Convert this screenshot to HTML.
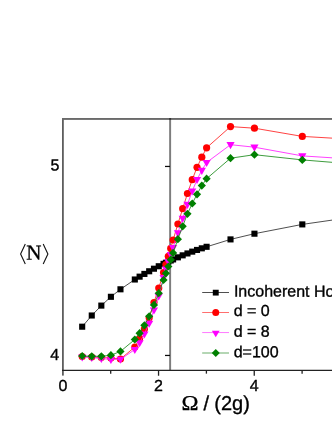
<!DOCTYPE html>
<html><head><meta charset="utf-8"><title>chart</title>
<style>
html,body{margin:0;padding:0;background:#fff;}
body{width:332px;height:430px;position:relative;overflow:hidden;font-family:"Liberation Sans",sans-serif;color:#000;}
</style></head><body>
<svg width="332" height="430" viewBox="0 0 332 430" style="position:absolute;left:0;top:0;text-rendering:geometricPrecision;will-change:transform">
<rect x="62.0" y="118.0" width="1.8" height="257.6" fill="#5e5e5e"/>
<rect x="62.0" y="118.0" width="280" height="1.9" fill="#6a6a6a"/>
<rect x="169.15" y="118.0" width="1.95" height="252.5" fill="#000" fill-opacity="0.51"/>
<path d="M62.0,370.45 L340,370.45" fill="none" stroke="#222" stroke-width="1.3"/>
<path d="M158.55,370.45 L158.55,375.75" stroke="#222" stroke-width="1.3"/>
<path d="M254.25,370.45 L254.25,375.75" stroke="#222" stroke-width="1.3"/>
<path d="M110.70,370.45 L110.70,373.65" stroke="#222" stroke-width="1.3"/>
<path d="M206.40,370.45 L206.40,373.65" stroke="#222" stroke-width="1.3"/>
<path d="M302.10,370.45 L302.10,373.65" stroke="#222" stroke-width="1.3"/>
<path d="M165.0,166.45 L170.0,166.45" stroke="#0a0a0a" stroke-width="1.25"/>
<path d="M165.0,355.45 L170.0,355.45" stroke="#0a0a0a" stroke-width="1.25"/>
<polyline points="82.19,326.70 91.76,315.50 101.33,305.60 110.90,296.80 120.47,289.30 134.82,279.50 139.61,276.66 144.39,273.92 149.18,271.26 153.96,268.71 158.75,266.24 163.54,263.88 165.93,262.73 168.32,261.60 170.71,260.50 173.10,259.42 177.89,257.34 182.68,255.34 187.46,253.45 192.25,251.64 197.03,249.94 201.81,248.32 206.60,246.80 230.52,239.40 254.45,233.70 302.30,224.40 350.15,217.50" fill="none" stroke="#222" stroke-width="0.8"/>
<rect x="79.14" y="323.65" width="6.1" height="6.1" fill="#000"/>
<rect x="88.71" y="312.45" width="6.1" height="6.1" fill="#000"/>
<rect x="98.28" y="302.55" width="6.1" height="6.1" fill="#000"/>
<rect x="107.85" y="293.75" width="6.1" height="6.1" fill="#000"/>
<rect x="117.42" y="286.25" width="6.1" height="6.1" fill="#000"/>
<rect x="131.77" y="276.45" width="6.1" height="6.1" fill="#000"/>
<rect x="136.56" y="273.61" width="6.1" height="6.1" fill="#000"/>
<rect x="141.34" y="270.87" width="6.1" height="6.1" fill="#000"/>
<rect x="146.13" y="268.21" width="6.1" height="6.1" fill="#000"/>
<rect x="150.91" y="265.66" width="6.1" height="6.1" fill="#000"/>
<rect x="155.70" y="263.19" width="6.1" height="6.1" fill="#000"/>
<rect x="160.49" y="260.83" width="6.1" height="6.1" fill="#000"/>
<rect x="162.88" y="259.68" width="6.1" height="6.1" fill="#000"/>
<rect x="165.27" y="258.55" width="6.1" height="6.1" fill="#000"/>
<rect x="167.66" y="257.45" width="6.1" height="6.1" fill="#000"/>
<rect x="170.05" y="256.37" width="6.1" height="6.1" fill="#000"/>
<rect x="174.84" y="254.29" width="6.1" height="6.1" fill="#000"/>
<rect x="179.62" y="252.29" width="6.1" height="6.1" fill="#000"/>
<rect x="184.41" y="250.40" width="6.1" height="6.1" fill="#000"/>
<rect x="189.19" y="248.59" width="6.1" height="6.1" fill="#000"/>
<rect x="193.98" y="246.89" width="6.1" height="6.1" fill="#000"/>
<rect x="198.76" y="245.27" width="6.1" height="6.1" fill="#000"/>
<rect x="203.55" y="243.75" width="6.1" height="6.1" fill="#000"/>
<rect x="227.47" y="236.35" width="6.1" height="6.1" fill="#000"/>
<rect x="251.40" y="230.65" width="6.1" height="6.1" fill="#000"/>
<rect x="299.25" y="221.35" width="6.1" height="6.1" fill="#000"/>
<rect x="347.10" y="214.45" width="6.1" height="6.1" fill="#000"/>
<polyline points="82.19,356.50 91.76,357.00 101.33,357.50 110.90,358.00 120.47,359.00 134.82,347.00 139.61,338.30 144.39,329.10 149.18,317.80 153.96,302.50 158.75,288.00 163.54,272.60 165.93,264.60 168.32,256.30 170.71,248.40 173.10,240.00 177.89,224.00 182.68,208.70 187.46,193.50 192.25,179.70 197.03,167.30 201.81,157.20 206.60,147.80 230.52,126.60 254.45,128.20 302.30,136.40 350.15,139.20" fill="none" stroke="#ff2020" stroke-width="0.85"/>
<circle cx="82.19" cy="356.50" r="3.6" fill="#ff0000"/>
<circle cx="91.76" cy="357.00" r="3.6" fill="#ff0000"/>
<circle cx="101.33" cy="357.50" r="3.6" fill="#ff0000"/>
<circle cx="110.90" cy="358.00" r="3.6" fill="#ff0000"/>
<circle cx="120.47" cy="359.00" r="3.6" fill="#ff0000"/>
<circle cx="134.82" cy="347.00" r="3.6" fill="#ff0000"/>
<circle cx="139.61" cy="338.30" r="3.6" fill="#ff0000"/>
<circle cx="144.39" cy="329.10" r="3.6" fill="#ff0000"/>
<circle cx="149.18" cy="317.80" r="3.6" fill="#ff0000"/>
<circle cx="153.96" cy="302.50" r="3.6" fill="#ff0000"/>
<circle cx="158.75" cy="288.00" r="3.6" fill="#ff0000"/>
<circle cx="163.54" cy="272.60" r="3.6" fill="#ff0000"/>
<circle cx="165.93" cy="264.60" r="3.6" fill="#ff0000"/>
<circle cx="168.32" cy="256.30" r="3.6" fill="#ff0000"/>
<circle cx="170.71" cy="248.40" r="3.6" fill="#ff0000"/>
<circle cx="173.10" cy="240.00" r="3.6" fill="#ff0000"/>
<circle cx="177.89" cy="224.00" r="3.6" fill="#ff0000"/>
<circle cx="182.68" cy="208.70" r="3.6" fill="#ff0000"/>
<circle cx="187.46" cy="193.50" r="3.6" fill="#ff0000"/>
<circle cx="192.25" cy="179.70" r="3.6" fill="#ff0000"/>
<circle cx="197.03" cy="167.30" r="3.6" fill="#ff0000"/>
<circle cx="201.81" cy="157.20" r="3.6" fill="#ff0000"/>
<circle cx="206.60" cy="147.80" r="3.6" fill="#ff0000"/>
<circle cx="230.52" cy="126.60" r="3.6" fill="#ff0000"/>
<circle cx="254.45" cy="128.20" r="3.6" fill="#ff0000"/>
<circle cx="302.30" cy="136.40" r="3.6" fill="#ff0000"/>
<circle cx="350.15" cy="139.20" r="3.6" fill="#ff0000"/>
<polyline points="82.19,357.00 91.76,357.50 101.33,358.50 110.90,359.50 120.47,359.30 134.82,349.50 139.61,342.80 144.39,334.00 149.18,323.30 153.96,310.00 158.75,296.00 163.54,277.50 165.93,269.00 168.32,261.50 170.71,254.50 173.10,247.50 177.89,232.80 182.68,218.30 187.46,204.40 192.25,191.10 197.03,179.60 201.81,170.40 206.60,162.50 230.52,144.70 254.45,147.20 302.30,155.90 350.15,159.00" fill="none" stroke="#ff20ff" stroke-width="0.85"/>
<polygon points="78.09,354.40 86.29,354.40 82.19,361.50" fill="#ff00ff"/>
<polygon points="87.66,354.90 95.86,354.90 91.76,362.00" fill="#ff00ff"/>
<polygon points="97.23,355.90 105.43,355.90 101.33,363.00" fill="#ff00ff"/>
<polygon points="106.80,356.90 115.00,356.90 110.90,364.00" fill="#ff00ff"/>
<polygon points="116.37,356.70 124.57,356.70 120.47,363.80" fill="#ff00ff"/>
<polygon points="130.72,346.90 138.92,346.90 134.82,354.00" fill="#ff00ff"/>
<polygon points="135.51,340.20 143.71,340.20 139.61,347.30" fill="#ff00ff"/>
<polygon points="140.29,331.40 148.49,331.40 144.39,338.50" fill="#ff00ff"/>
<polygon points="145.08,320.70 153.28,320.70 149.18,327.80" fill="#ff00ff"/>
<polygon points="149.86,307.40 158.06,307.40 153.96,314.50" fill="#ff00ff"/>
<polygon points="154.65,293.40 162.85,293.40 158.75,300.50" fill="#ff00ff"/>
<polygon points="159.44,274.90 167.64,274.90 163.54,282.00" fill="#ff00ff"/>
<polygon points="161.83,266.40 170.03,266.40 165.93,273.50" fill="#ff00ff"/>
<polygon points="164.22,258.90 172.42,258.90 168.32,266.00" fill="#ff00ff"/>
<polygon points="166.61,251.90 174.81,251.90 170.71,259.00" fill="#ff00ff"/>
<polygon points="169.00,244.90 177.20,244.90 173.10,252.00" fill="#ff00ff"/>
<polygon points="173.79,230.20 181.99,230.20 177.89,237.30" fill="#ff00ff"/>
<polygon points="178.58,215.70 186.78,215.70 182.68,222.80" fill="#ff00ff"/>
<polygon points="183.36,201.80 191.56,201.80 187.46,208.90" fill="#ff00ff"/>
<polygon points="188.15,188.50 196.34,188.50 192.25,195.60" fill="#ff00ff"/>
<polygon points="192.93,177.00 201.13,177.00 197.03,184.10" fill="#ff00ff"/>
<polygon points="197.72,167.80 205.91,167.80 201.81,174.90" fill="#ff00ff"/>
<polygon points="202.50,159.90 210.70,159.90 206.60,167.00" fill="#ff00ff"/>
<polygon points="226.42,142.10 234.62,142.10 230.52,149.20" fill="#ff00ff"/>
<polygon points="250.35,144.60 258.55,144.60 254.45,151.70" fill="#ff00ff"/>
<polygon points="298.20,153.30 306.40,153.30 302.30,160.40" fill="#ff00ff"/>
<polygon points="346.05,156.40 354.25,156.40 350.15,163.50" fill="#ff00ff"/>
<polyline points="82.19,356.00 91.76,356.30 101.33,356.30 110.90,355.20 120.47,351.40 134.82,339.50 139.61,333.20 144.39,325.30 149.18,316.30 153.96,304.90 158.75,293.20 163.54,280.00 165.93,273.30 168.32,266.50 170.71,259.70 173.10,252.90 177.89,239.20 182.68,226.30 187.46,213.80 192.25,203.50 197.03,194.30 201.81,185.60 206.60,178.70 230.52,158.20 254.45,154.70 302.30,159.90 350.15,163.80" fill="none" stroke="#1a8a1a" stroke-width="0.85"/>
<polygon points="78.09,356.00 82.19,351.90 86.29,356.00 82.19,360.10" fill="#008000"/>
<polygon points="87.66,356.30 91.76,352.20 95.86,356.30 91.76,360.40" fill="#008000"/>
<polygon points="97.23,356.30 101.33,352.20 105.43,356.30 101.33,360.40" fill="#008000"/>
<polygon points="106.80,355.20 110.90,351.10 115.00,355.20 110.90,359.30" fill="#008000"/>
<polygon points="116.37,351.40 120.47,347.30 124.57,351.40 120.47,355.50" fill="#008000"/>
<polygon points="130.72,339.50 134.82,335.40 138.92,339.50 134.82,343.60" fill="#008000"/>
<polygon points="135.51,333.20 139.61,329.10 143.71,333.20 139.61,337.30" fill="#008000"/>
<polygon points="140.29,325.30 144.39,321.20 148.49,325.30 144.39,329.40" fill="#008000"/>
<polygon points="145.08,316.30 149.18,312.20 153.28,316.30 149.18,320.40" fill="#008000"/>
<polygon points="149.86,304.90 153.96,300.80 158.06,304.90 153.96,309.00" fill="#008000"/>
<polygon points="154.65,293.20 158.75,289.10 162.85,293.20 158.75,297.30" fill="#008000"/>
<polygon points="159.44,280.00 163.54,275.90 167.64,280.00 163.54,284.10" fill="#008000"/>
<polygon points="161.83,273.30 165.93,269.20 170.03,273.30 165.93,277.40" fill="#008000"/>
<polygon points="164.22,266.50 168.32,262.40 172.42,266.50 168.32,270.60" fill="#008000"/>
<polygon points="166.61,259.70 170.71,255.60 174.81,259.70 170.71,263.80" fill="#008000"/>
<polygon points="169.00,252.90 173.10,248.80 177.20,252.90 173.10,257.00" fill="#008000"/>
<polygon points="173.79,239.20 177.89,235.10 181.99,239.20 177.89,243.30" fill="#008000"/>
<polygon points="178.58,226.30 182.68,222.20 186.78,226.30 182.68,230.40" fill="#008000"/>
<polygon points="183.36,213.80 187.46,209.70 191.56,213.80 187.46,217.90" fill="#008000"/>
<polygon points="188.15,203.50 192.25,199.40 196.34,203.50 192.25,207.60" fill="#008000"/>
<polygon points="192.93,194.30 197.03,190.20 201.13,194.30 197.03,198.40" fill="#008000"/>
<polygon points="197.72,185.60 201.81,181.50 205.91,185.60 201.81,189.70" fill="#008000"/>
<polygon points="202.50,178.70 206.60,174.60 210.70,178.70 206.60,182.80" fill="#008000"/>
<polygon points="226.42,158.20 230.52,154.10 234.62,158.20 230.52,162.30" fill="#008000"/>
<polygon points="250.35,154.70 254.45,150.60 258.55,154.70 254.45,158.80" fill="#008000"/>
<polygon points="298.20,159.90 302.30,155.80 306.40,159.90 302.30,164.00" fill="#008000"/>
<polygon points="346.05,163.80 350.15,159.70 354.25,163.80 350.15,167.90" fill="#008000"/>
<path d="M202.2,292.5 L229.0,292.5" stroke="#222" stroke-width="0.8"/>
<rect x="212.8" y="289.75" width="5.9" height="5.8" fill="#000"/>
<path d="M202.2,312.5 L229.0,312.5" stroke="#ff3030" stroke-width="0.7"/>
<circle cx="215.75" cy="312.6" r="3.5" fill="#f00"/>
<path d="M202.2,332.55 L229.0,332.55" stroke="#ff40ff" stroke-width="0.7"/>
<polygon points="211.85,330.65000000000003 219.65,330.65000000000003 215.75,337.15000000000003" fill="#f0f"/>
<path d="M202.2,353.0 L229.0,353.0" stroke="#2a8a2a" stroke-width="0.7"/>
<polygon points="211.75,353.0 215.75,349.1 219.75,353.0 215.75,356.9" fill="#008000"/>
<path d="M25.3,243.9 L20.6,253.9 L25.3,263.9" fill="none" stroke="#111" stroke-width="1.1"/>
<path d="M43.2,243.9 L47.9,253.9 L43.2,263.9" fill="none" stroke="#111" stroke-width="1.1"/>
<text x="50.4" y="170.6" font-size="16" font-family="'Liberation Sans', sans-serif" fill="#000" stroke="#000" stroke-width="0.35" transform="rotate(0.03 50.4 170.6)" >5</text>
<text x="50.2" y="360.1" font-size="16" font-family="'Liberation Sans', sans-serif" fill="#000" stroke="#000" stroke-width="0.35" transform="rotate(0.03 50.2 360.1)" >4</text>
<text x="58.5" y="391" font-size="16" font-family="'Liberation Sans', sans-serif" fill="#000" stroke="#000" stroke-width="0.35" transform="rotate(0.03 58.5 391)" >0</text>
<text x="154.0" y="391" font-size="16" font-family="'Liberation Sans', sans-serif" fill="#000" stroke="#000" stroke-width="0.35" transform="rotate(0.03 154.0 391)" >2</text>
<text x="249.8" y="391" font-size="16" font-family="'Liberation Sans', sans-serif" fill="#000" stroke="#000" stroke-width="0.35" transform="rotate(0.03 249.8 391)" >4</text>
<text x="233.9" y="296.6" font-size="16" font-family="'Liberation Sans', sans-serif" fill="#000" stroke="#000" stroke-width="0.35" transform="rotate(0.03 233.9 296.6)" >Incoherent Ho</text>
<text x="233.7" y="316.0" font-size="16" font-family="'Liberation Sans', sans-serif" fill="#000" stroke="#000" stroke-width="0.35" transform="rotate(0.03 233.7 316.0)" >d = 0</text>
<text x="233.7" y="336.8" font-size="16" font-family="'Liberation Sans', sans-serif" fill="#000" stroke="#000" stroke-width="0.35" transform="rotate(0.03 233.7 336.8)" >d = 8</text>
<text x="233.7" y="357.2" font-size="16" font-family="'Liberation Sans', sans-serif" fill="#000" stroke="#000" stroke-width="0.35" transform="rotate(0.03 233.7 357.2)" >d=100</text>
<text x="26.2" y="259.6" font-size="21" font-family="'Liberation Serif', serif" fill="#000" stroke="#000" stroke-width="0.3" transform="rotate(0.03 26.2 259.6)" >N</text>
<text x="181.6" y="410" font-size="21" font-family="'Liberation Serif', serif" fill="#000" stroke="#000" stroke-width="0.3" transform="rotate(0.03 181.6 410) translate(181.6 0) scale(1.09 1) translate(-181.6 0)" >&#937;</text>
<text x="203.6" y="410" font-size="20" font-family="'Liberation Sans', sans-serif" fill="#000" stroke="#000" stroke-width="0.35" transform="rotate(0.03 203.6 410)" >/</text>
<text x="214.3" y="410" font-size="20" font-family="'Liberation Sans', sans-serif" fill="#000" stroke="#000" stroke-width="0.35" transform="rotate(0.03 214.3 410)" >(2g)</text>
</svg>
</body></html>
